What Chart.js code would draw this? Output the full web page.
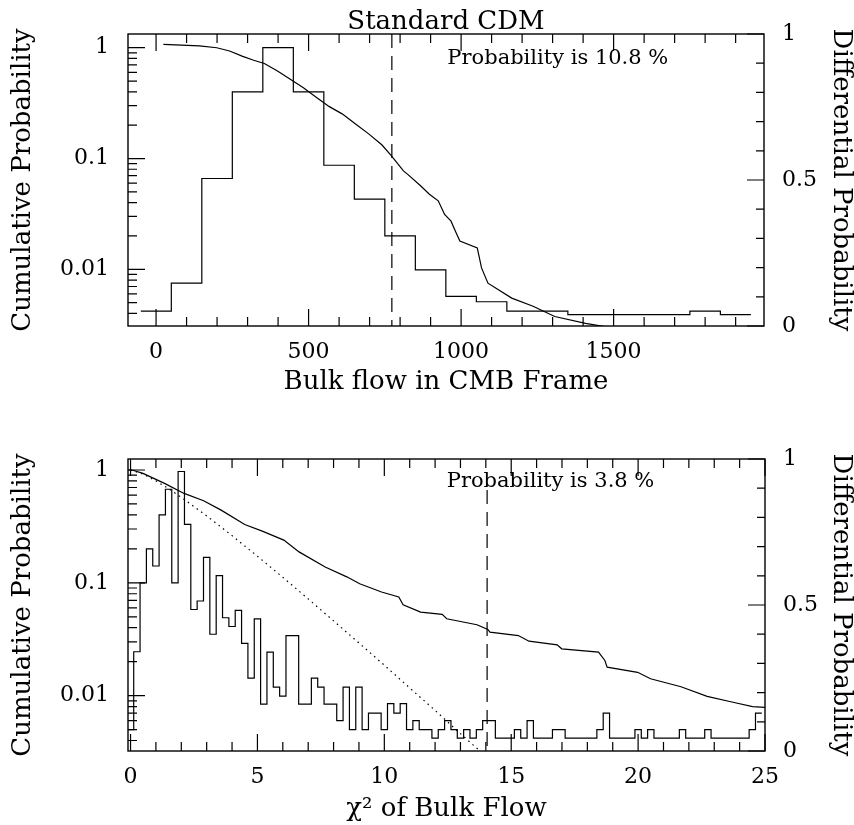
<!DOCTYPE html>
<html lang="en">
<head>
<meta charset="UTF-8">
<title>Bulk flow probability</title>
<style>
  body { margin: 0; background: #fff; }
  canvas { display: block; }
</style>
</head>
<body>
<canvas id="bulkChart" width="854" height="412"></canvas>
<canvas id="chiChart" width="854" height="413"></canvas>

<script src="https://cdn.jsdelivr.net/npm/chart.js"></script>
<script>
// ---- top panel: bulk flow in CMB frame ----
const bulkCenters = [0, 100, 200, 300, 400, 500, 600, 700, 800, 900,
                     1000, 1100, 1200, 1300, 1400, 1500, 1600, 1700, 1800, 1900];
const bulkHist = [0.0042, 0.0075, 0.066, 0.40, 1.0, 0.40, 0.087, 0.043, 0.020, 0.0099,
                  0.0057, 0.0051, 0.0042, 0.0042, 0.0039, 0.0039, 0.0039, 0.0039, 0.0042, 0.0039];
const bulkCumX = [24, 142, 199, 241, 284, 320, 355, 398, 440, 483, 525, 568, 610, 654, 697, 740,
                  771, 811, 825, 868, 896, 925, 946, 967, 981, 996, 1053, 1067, 1088, 1166, 1236,
                  1307, 1408, 1484];
const bulkCumY = [1.07, 1.04, 1.0, 0.935, 0.836, 0.77, 0.72, 0.616, 0.52, 0.435, 0.358, 0.294,
                  0.253, 0.205, 0.167, 0.133, 0.106, 0.0774, 0.072, 0.0565, 0.0476, 0.0415,
                  0.0313, 0.0272, 0.0222, 0.018, 0.0156, 0.0103, 0.0075, 0.0055, 0.00464,
                  0.00375, 0.00325, 0.0030];
const bulkCut = 773;
const bulkNote = 'Probability is 10.8 %';
const bulkTickLabels = [0, 500, 1000, 1500];

// ---- bottom panel: chi^2 of bulk flow ----
const chiWidth = 0.25;
const chiHist = [
  0.005, 0.0245, 0.10, 0.20, 0.141, 0.40, 0.675, 0.10, 0.97, 0.33,
  0.058, 0.069, 0.168, 0.035, 0.116, 0.049, 0.041, 0.057, 0.029, 0.0143,
  0.048, 0.0084, 0.0243, 0.0119, 0.0099, 0.034, 0.034, 0.0084, 0.0084, 0.0143,
  0.0119, 0.0084, 0.0084, 0.006, 0.0119, 0.005, 0.0119, 0.005, 0.007, 0.007,
  0.005, 0.0085, 0.007, 0.0085, 0.005, 0.006, 0.005, 0.005, 0.0042, 0.005,
  0.006, 0.005, 0.0042, 0.005, 0.0042, 0.005, 0.006, 0.006, 0.0042, 0.0042,
  0.0042, 0.005, 0.0042, 0.006, 0.0042, 0.0042, 0.0042, 0.005, 0.005, 0.0042,
  0.0042, 0.0042, 0.0042, 0.0042, 0.005, 0.007, 0.0042, 0.0042, 0.0042, 0.0042,
  0.005, 0.0042, 0.005, 0.0042, 0.0042, 0.0042, 0.0042, 0.005, 0.0042, 0.0042,
  0.0042, 0.005, 0.0042, 0.0042, 0.0042, 0.0042, 0.0042, 0.0042, 0.005, 0.007
];
const chiCumX = [-0.1, 0.06, 0.49, 1.34, 2.11, 2.88, 3.57, 4.50, 5.19, 6.04, 6.64, 7.67, 8.52,
                 9.03, 9.89, 10.57, 10.74, 11.43, 12.28, 12.46, 13.65, 14.08, 14.16, 15.28,
                 15.70, 16.81, 16.99, 18.44, 18.69, 18.78, 19.98, 20.49, 21.69, 22.72, 23.74,
                 24.51, 25.0];
const chiCumY = [1.0, 1.0, 0.934, 0.761, 0.62, 0.534, 0.441, 0.329, 0.287, 0.239, 0.188, 0.138,
                 0.113, 0.098, 0.083, 0.0748, 0.064, 0.055, 0.0525, 0.048, 0.0425, 0.0386,
                 0.0366, 0.0341, 0.0304, 0.0282, 0.026, 0.0243, 0.0205, 0.0179, 0.0161, 0.0141,
                 0.012, 0.00986, 0.00873, 0.00798, 0.00787];
const chiDotX = [0, 0.5, 1, 1.5, 2, 3, 4, 5, 6, 7, 8, 9, 10, 11, 12, 13, 14];
const chiDotY = [1, 0.919, 0.801, 0.682, 0.572, 0.392, 0.262, 0.172, 0.112, 0.072, 0.046,
                 0.0293, 0.0186, 0.0117, 0.0074, 0.0046, 0.0029];
const chiCut = 14.05;
const chiNote = 'Probability is 3.8 %';
const chiTickLabels = [0, 5, 10, 15, 20, 25];

const leftTickLabels = [0.01, 0.1, 1];
const rightTickLabels = [0, 0.5, 1];

Chart.defaults.font.family = "'DejaVu Serif', serif";
Chart.defaults.color = '#000';

function steps(centers, values, w) {
  const pts = centers.map((c, i) => ({x: c - w / 2, y: values[i]}));
  pts.push({x: centers[centers.length - 1] + w / 2, y: values[values.length - 1]});
  return pts;
}
const zip = (xs, ys) => xs.map((x, i) => ({x: x, y: ys[i]}));

// frame box, inward ticks on all sides, panel title and the probability note
const frameTicks = {
  id: 'frameTicks',
  afterDatasetsDraw(chart, args, o) {
    const {ctx, chartArea: a} = chart;
    const sx = chart.scales.x, sy = chart.scales.y, sr = chart.scales.y2;
    const seg = (x1, y1, x2, y2) => { ctx.moveTo(x1, y1); ctx.lineTo(x2, y2); };
    ctx.save();
    ctx.strokeStyle = '#000';
    ctx.lineWidth = 1.2;
    ctx.beginPath();
    o.xMinor.forEach(v => {
      const p = sx.getPixelForValue(v);
      const len = o.xMajor.includes(v) ? 17 : 9;
      seg(p, a.bottom, p, a.bottom - len);
      seg(p, a.top, p, a.top + len);
    });
    for (let e = -3; e <= 0; e++) {
      for (let m = 1; m <= 9; m++) {
        const v = m * Math.pow(10, e);
        if (v < sy.min || v > sy.max) continue;
        const p = sy.getPixelForValue(v);
        seg(a.left, p, a.left + (m === 1 ? 17 : 9), p);
      }
    }
    for (let i = 0; i <= 10; i++) {
      const p = sr.getPixelForValue(i / 10);
      seg(a.right, p, a.right - (i % 5 === 0 ? 17 : 8), p);
    }
    ctx.stroke();
    ctx.lineWidth = 1.4;
    ctx.strokeRect(a.left, a.top, a.right - a.left, a.bottom - a.top);

    ctx.fillStyle = '#000';
    ctx.textBaseline = 'alphabetic';
    if (o.title) {
      ctx.font = "26px 'DejaVu Serif'";
      ctx.textAlign = 'center';
      ctx.fillText(o.title, (a.left + a.right) / 2, a.top - 5.5);
    }
    ctx.font = "21px 'DejaVu Serif'";
    ctx.textAlign = 'left';
    ctx.fillText(o.note, sx.getPixelForValue(o.noteX), sy.getPixelForValue(o.noteY));
    ctx.restore();
  }
};

function makeChart(id, p) {
  const datasets = [
    {data: steps(p.centers, p.hist, p.width), stepped: true},
    {data: zip(p.cumX, p.cumY)}
  ];
  if (p.dotX) {
    datasets.push({data: zip(p.dotX, p.dotY), borderDash: [1.5, 4]});
  }
  datasets.push({data: [{x: p.cut, y: p.cutTop}, {x: p.cut, y: p.yMin}], borderDash: [14, 8]});

  return new Chart(document.getElementById(id), {
    type: 'line',
    data: {datasets: datasets},
    options: {
      responsive: false,
      animation: false,
      events: [],
      layout: {padding: {top: p.padTop, left: 0, right: 0, bottom: 0}},
      elements: {
        point: {radius: 0},
        line: {borderColor: '#000', borderWidth: 1.2, fill: false, tension: 0}
      },
      plugins: {
        legend: {display: false},
        tooltip: {enabled: false},
        title: {display: false},
        frameTicks: {
          title: p.title,
          xMajor: p.xLabels,
          xMinor: p.xMinor,
          note: p.note,
          noteX: p.noteX,
          noteY: p.noteY
        }
      },
      scales: {
        x: {
          type: 'linear',
          min: p.xMin,
          max: p.xMax,
          grid: {display: false, drawTicks: false},
          border: {display: false},
          ticks: {padding: 13.5, maxRotation: 0, autoSkip: false, font: {size: 22},
                  callback: v => String(v)},
          afterBuildTicks: s => { s.ticks = p.xLabels.map(v => ({value: v})); },
          afterFit: s => { s.height = p.xHeight; },
          title: {display: true, text: p.xTitle, font: {size: 26},
                  padding: {top: 0, bottom: p.xTitlePad}}
        },
        y: {
          type: 'logarithmic',
          position: 'left',
          min: p.yMin,
          max: p.yMax,
          grid: {display: false, drawTicks: false},
          border: {display: false},
          ticks: {padding: 19, font: {size: 22}, callback: v => String(v)},
          afterBuildTicks: s => { s.ticks = leftTickLabels.map(v => ({value: v})); },
          afterFit: s => { s.width = p.left; },
          title: {display: true, text: 'Cumulative Probability', font: {size: 26},
                  padding: {top: 7.7, bottom: 0}}
        },
        y2: {
          type: 'linear',
          position: 'right',
          min: 0,
          max: 1,
          grid: {display: false, drawTicks: false},
          border: {display: false},
          ticks: {padding: 18, font: {size: 22}, callback: v => String(v)},
          afterBuildTicks: s => { s.ticks = rightTickLabels.map(v => ({value: v})); },
          afterFit: s => { s.width = p.rightWidth; },
          title: {display: true, text: 'Differential Probability', font: {size: 26},
                  padding: {top: -2.1, bottom: 0}}
        }
      }
    },
    plugins: [frameTicks]
  });
}

const bulkMinor = [];
for (let v = 0; v <= 1900; v += 100) bulkMinor.push(v);
const chiMinor = [];
for (let v = 0; v <= 25; v += 1) chiMinor.push(v);

makeChart('bulkChart', {
  title: 'Standard CDM',
  centers: bulkCenters, hist: bulkHist, width: 100,
  cumX: bulkCumX, cumY: bulkCumY,
  cut: bulkCut, cutTop: 1.33,
  xMin: -92, xMax: 1993, yMin: 0.00308, yMax: 1.33,
  xLabels: bulkTickLabels, xMinor: bulkMinor,
  xTitle: 'Bulk flow in CMB Frame', xTitlePad: 14,
  note: bulkNote, noteX: 955, noteY: 0.71,
  padTop: 34, left: 128, rightWidth: 90, xHeight: 86
});

makeChart('chiChart', {
  title: '',
  centers: chiHist.map((_, i) => i * chiWidth), hist: chiHist, width: chiWidth,
  cumX: chiCumX, cumY: chiCumY,
  dotX: chiDotX, dotY: chiDotY,
  cut: chiCut, cutTop: 0.665,
  xMin: -0.1, xMax: 25, yMin: 0.00323, yMax: 1.252,
  xLabels: chiTickLabels, xMinor: chiMinor,
  xTitle: 'χ² of Bulk Flow', xTitlePad: 0,
  note: chiNote, noteX: 12.46, noteY: 0.707,
  padTop: 47, left: 128, rightWidth: 89, xHeight: 74
});
</script>
</body>
</html>
